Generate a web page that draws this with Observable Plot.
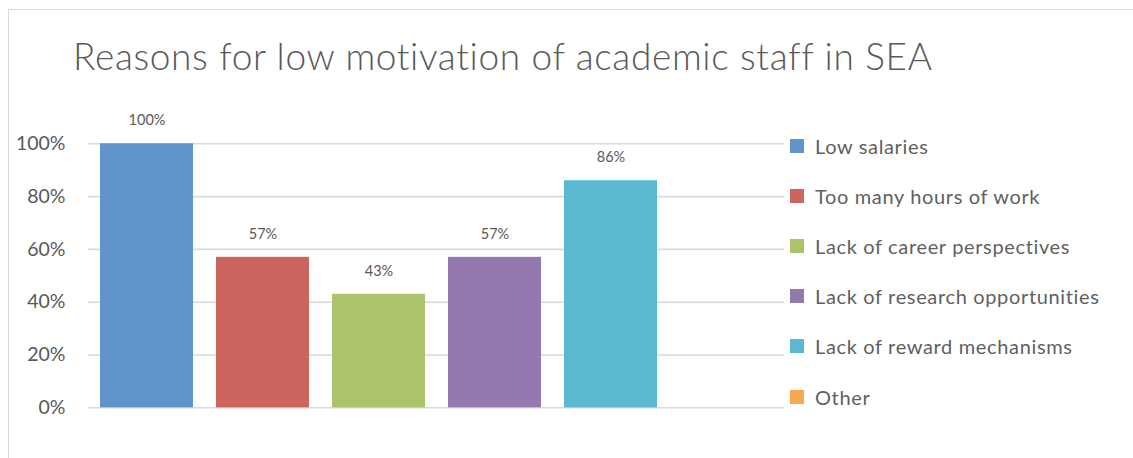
<!DOCTYPE html>
<html>
<head>
<meta charset="utf-8">
<script src="https://cdn.jsdelivr.net/npm/d3@7"></script>
<script src="https://cdn.jsdelivr.net/npm/@observablehq/plot@0.6"></script>
<style>
  html, body { margin: 0; padding: 0; background: #fff; }
  #wrap { position: relative; width: 1133px; height: 458px; overflow: hidden; font-family: Lato, "Open Sans", sans-serif; }
  #frame { position: absolute; left: 8px; top: 9px; width: 1200px; height: 500px; border: 1.5px solid #d9d9d9; box-sizing: border-box; }
  #title { position: absolute; left: 73px; top: 33px; font-size: 37px; font-weight: 300; color: #595959; white-space: nowrap; letter-spacing: 0.65px; }
  #chart { position: absolute; left: 0; top: 0; }
  #legend { position: absolute; left: 785px; top: 120.5px; background: #fff; padding: 0 0 0 5px; }
  .item { height: 50.2px; display: flex; align-items: center; font-size: 20px; color: #5f5f5f; white-space: nowrap; letter-spacing: 0.65px; }
  .sw { width: 14px; height: 14px; margin-right: 11px; }
</style>
</head>
<body>
<div id="wrap">
  <div id="frame"></div>
  <div id="chart"></div>
  <div id="title"></div>
  <div id="legend"></div>
</div>
<script>
const titleText = "Reasons for low motivation of academic staff in SEA";
const categories = ["Low salaries", "Too many hours of work", "Lack of career perspectives", "Lack of research opportunities", "Lack of reward mechanisms", "Other"];
const values = [1.00, 0.57, 0.43, 0.57, 0.86, 0];
const colors = ["#5F95C9", "#CD655F", "#ABC46C", "#9479AF", "#5BB8D1", "#FAA755"];
const yTicks = [0, 0.2, 0.4, 0.6, 0.8, 1.0];

const data = categories.map((c, i) => ({category: c, value: values[i]}));

document.getElementById("title").textContent = titleText;

const plot = Plot.plot({
  width: 1133,
  height: 458,
  marginLeft: 88,
  marginRight: 349,
  marginTop: 143.3,
  marginBottom: 50.7,
  style: {fontFamily: "Lato, 'Open Sans', sans-serif", background: "transparent"},
  x: {domain: categories, paddingInner: 0.2, paddingOuter: 0.1, axis: null},
  y: {domain: [0, 1], ticks: yTicks, tickFormat: d3.format(".0%"), tickSize: 0, tickPadding: 23, label: null},
  color: {domain: categories, range: colors},
  marks: [
    Plot.ruleY(yTicks, {stroke: "#d9d9d9", strokeWidth: 1.6, strokeOpacity: 1}),
    Plot.barY(data, {x: "category", y: "value", fill: "category"}),
    Plot.text(data.filter(d => d.value > 0), {x: "category", y: "value", text: d => d3.format(".0%")(d.value), dy: -23, lineAnchor: "middle", fontSize: 14.5, fill: "#595959", style: {letterSpacing: "0.3px"}}),
    Plot.axisY({ticks: yTicks, tickFormat: d3.format(".0%"), tickSize: 0, tickPadding: 23, fontSize: 19.5, color: "#595959", label: null, style: {letterSpacing: "0.5px"}})
  ]
});
document.getElementById("chart").appendChild(plot);

const legend = document.getElementById("legend");
categories.forEach((c, i) => {
  const row = document.createElement("div");
  row.className = "item";
  const sw = document.createElement("div");
  sw.className = "sw";
  sw.style.background = colors[i];
  const t = document.createElement("span");
  t.textContent = c;
  row.appendChild(sw);
  row.appendChild(t);
  legend.appendChild(row);
});
</script>
</body>
</html>
